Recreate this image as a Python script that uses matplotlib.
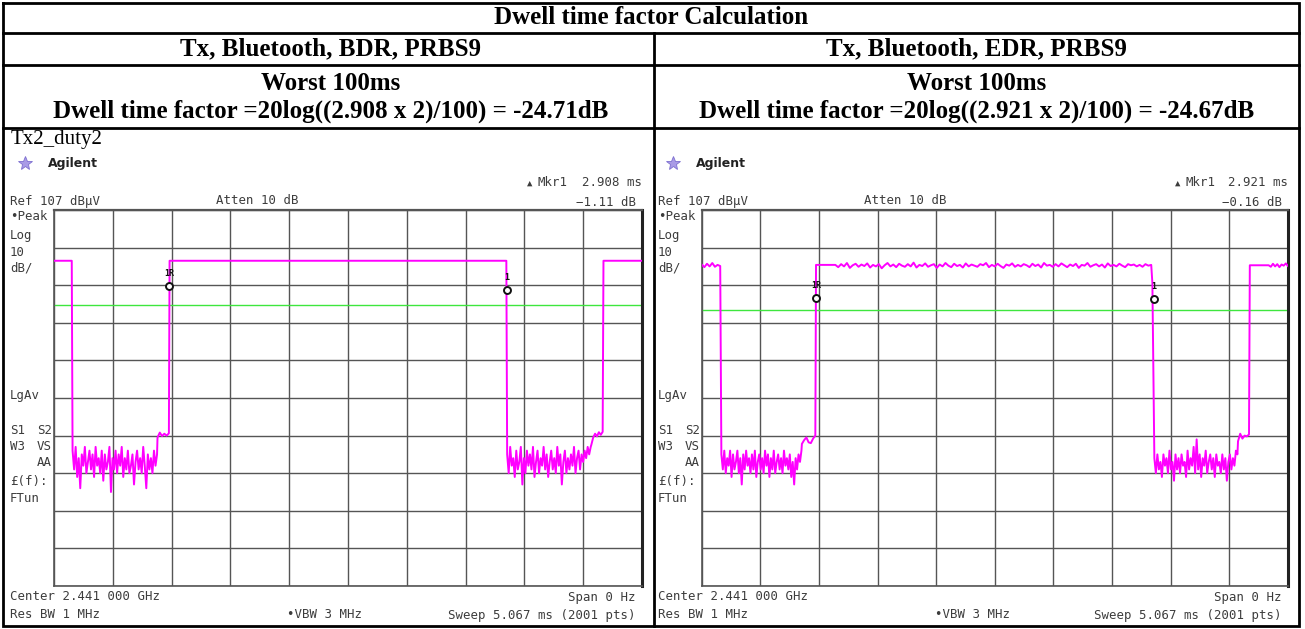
"""Dwell time factor sheet: BDR / EDR zero-span transmit bursts side by side."""
import matplotlib
matplotlib.use("Agg")
import matplotlib.pyplot as plt
import numpy as np

W, H = 1305, 629
SWEEP_MS = 5.067
REF_DB = 107
DB_PER_DIV = 10

TITLE = "Dwell time factor Calculation"
COL_HEADERS = ["Tx, Bluetooth, BDR, PRBS9", "Tx, Bluetooth, EDR, PRBS9"]
PULSE_MS = [2.908, 2.921]
WINDOW_MS = 100
FACTORS_DB = [-24.71, -24.67]
MKR_DELTA_DB = [-1.11, -0.16]

# marker 1R position (ms, dBuV) and display-line level per panel
MKR_REF = [(0.995, 86.8), (0.986, 83.5)]
DISPLAY_LINE_DB = [81.7, 80.4]

# ---- BDR trace (left) ----
bdr_high_db = 93.5
bdr_low1 = [43, 38, 44, 36, 41, 33, 42, 39, 44, 37, 40, 43, 38, 42, 36, 44,
            39, 41, 37, 43, 35, 42, 38, 40, 44, 32, 41, 38, 43, 37, 42, 39,
            44, 36, 41, 38, 43, 37, 39, 42, 34, 40, 43, 38, 41, 37, 44, 39,
            33, 42, 38, 41, 37, 43, 39, 42]
bdr_step1 = [46.5, 47.8, 46.9, 47.5, 47.0, 47.6]
bdr_low2 = [42, 37, 44, 39, 41, 36, 43, 38, 40, 44, 34, 41, 37, 43, 39, 42,
            38, 44, 36, 40, 43, 37, 41, 39, 44, 38, 42, 36, 40, 43, 38, 41,
            37, 44, 39, 42, 34, 40, 43, 37, 41, 38, 42, 39, 44, 37, 41, 43,
            38, 42, 40, 43, 41, 44, 42, 44]
bdr_step2 = [44.5, 46.5, 47.5, 46.8, 47.9, 47.2, 48.0]

# ---- EDR trace (right) ----
edr_start = [92.5, 91.8, 92.7, 92.0, 92.9, 91.9, 92.4, 92.1]
edr_low1 = [42, 38, 43, 37, 41, 39, 43, 36, 42, 38, 40, 43, 37, 41, 34, 42,
            38, 43, 39, 41, 37, 42, 38, 43, 36, 40, 42, 38, 41, 37, 43, 39,
            42, 36, 41, 38, 43, 37, 40, 42, 38, 41, 37, 43, 39, 41, 38, 42,
            36, 40, 34, 41, 38, 42, 40, 43]
edr_step1 = [44.8, 45.8, 46.5, 45.2, 45.0, 46.2, 47.0]
edr_flat_db = 92.4
edr_burst = [92.4, 91.8, 92.6, 92.0, 92.9, 91.6, 92.3, 92.7, 91.9, 92.5,
             92.1, 92.8, 91.7, 92.4, 92.0, 92.6, 91.5, 92.3, 92.9, 92.0,
             92.5, 91.8, 92.7, 92.2, 91.9, 92.6, 92.0, 93.0, 91.7, 92.4,
             92.1, 92.8, 91.9, 92.3, 92.6, 91.6, 92.5, 92.0, 92.9, 92.2,
             91.8, 92.7, 92.1, 92.4, 91.7, 92.8, 92.0, 92.5, 92.2, 91.9,
             92.6, 92.3, 92.9, 91.8, 92.4, 92.0, 92.7, 92.1, 91.6, 92.5,
             92.2, 92.8, 91.9, 92.4, 92.0, 92.6, 92.3, 91.8, 92.7, 92.1,
             92.5, 91.7, 92.9, 92.2, 92.4, 91.9, 92.6, 92.0, 92.8, 92.3,
             91.8, 92.5, 92.1, 92.7, 91.6, 92.4, 92.2, 92.9, 91.9, 92.3,
             92.6, 92.0, 92.5, 91.7, 92.8, 92.1, 92.4, 92.0, 92.7, 92.2,
             91.8, 92.6, 92.3, 92.5, 92.0, 92.4, 91.9, 92.6, 92.2, 92.4]
edr_low2 = [41, 37, 42, 38, 40, 36, 42, 39, 41, 37, 43, 38, 40, 35, 42, 38,
            41, 37, 42, 39, 40, 36, 43, 38, 41, 39, 44, 37, 46, 38, 42, 36,
            41, 39, 43, 37, 40, 42, 38, 41, 36, 42, 39, 40, 37, 42, 38, 41,
            35, 40, 42, 38, 41, 39, 43, 42]
edr_step2 = [45.5, 47.5, 46.2, 47.0, 46.8, 47.3]
edr_end = [92.3, 91.9, 92.7, 92.0, 92.6, 91.8, 92.5, 92.2, 92.8, 92.1]


def seg(t0, t1, vals):
    vals = np.asarray(vals, dtype=float)
    return np.linspace(t0, t1, len(vals)), vals


def build(parts):
    t = np.concatenate([p[0] for p in parts])
    v = np.concatenate([p[1] for p in parts])
    return t, v


bdr_t, bdr_v = build([
    seg(0.0, 0.153, [bdr_high_db, bdr_high_db]),
    seg(0.160, 0.888, bdr_low1),
    seg(0.892, 0.990, bdr_step1),
    seg(0.996, 3.898, [bdr_high_db, bdr_high_db]),
    seg(3.905, 4.625, bdr_low2),
    seg(4.630, 4.728, bdr_step2),
    seg(4.735, SWEEP_MS, [bdr_high_db, bdr_high_db]),
])

edr_t, edr_v = build([
    seg(0.0, 0.160, edr_start),
    seg(0.170, 0.862, edr_low1),
    seg(0.866, 0.982, edr_step1),
    seg(0.988, 1.150, [edr_flat_db, edr_flat_db]),
    seg(1.155, 3.885, edr_burst),
    seg(3.895, 3.895, [87.5]),
    seg(3.912, 4.630, edr_low2),
    seg(4.635, 4.730, edr_step2),
    seg(4.737, 4.890, [92.3, 92.3]),
    seg(4.900, SWEEP_MS, edr_end),
])

TRACES = [(bdr_t, bdr_v), (edr_t, edr_v)]

SERIF = "Liberation Serif"
MONO = "DejaVu Sans Mono"
SCOPE_INK = "#3c3c3c"

fig = plt.figure(figsize=(W / 100, H / 100), dpi=100)
fig.patch.set_facecolor("white")

# pixel-space overlay for the table frame and all annotations
bg = fig.add_axes([0, 0, 1, 1])
bg.set_xlim(0, W)
bg.set_ylim(H, 0)
bg.axis("off")

LX0, LX1, TY0, TY1 = 3, 1299, 3, 626
MID = 654
lw_tab = 2.0
bg.plot([LX0, LX1, LX1, LX0, LX0], [TY0, TY0, TY1, TY1, TY0],
        color="black", lw=lw_tab, solid_joinstyle="miter")
for y in (33, 65, 128):
    bg.plot([LX0, LX1], [y, y], color="black", lw=lw_tab)
bg.plot([MID, MID], [33, TY1], color="black", lw=lw_tab)

bold = dict(family=SERIF, weight="bold", fontsize=18, ha="center",
            va="center", color="black")
bg.text((LX0 + LX1) / 2, 18, TITLE, **bold)
col_centres = [(LX0 + MID) / 2 + 2, (MID + LX1) / 2]
for cx, hdr, pulse, fac in zip(col_centres, COL_HEADERS, PULSE_MS, FACTORS_DB):
    bg.text(cx, 49, hdr, **bold)
    bg.text(cx, 84, f"Worst {WINDOW_MS}ms", **bold)
    bg.text(cx, 111,
            f"Dwell time factor =20log(({pulse:.3f} x 2)/{WINDOW_MS}) = {fac:.2f}dB",
            **bold)

bg.text(11, 144, "Tx2_duty2", family=SERIF, fontsize=15, ha="left",
        va="baseline", color="black")

GRID_Y0, GRID_Y1 = 210, 586
grids = [(54, 642), (701.7, 1288)]
offsets = [(0, 0), (648, 646)]   # (left-aligned, right-aligned) shift per panel

mono = dict(family=MONO, fontsize=8.9, color=SCOPE_INK, va="center")
for i, ((gx0, gx1), (dl, dr)) in enumerate(zip(grids, offsets)):
    # instrument header
    bg.plot(25 + dl, 163, marker="*", ms=10, color="#a99be6", mec="#7d6fd0",
            mew=0.6)
    bg.text(48 + dl, 163, "Agilent", family="DejaVu Sans", weight="bold",
            fontsize=9, color="#222222", va="center")
    bg.text(10 + dl, 201, "Ref 107 dB\u03bcV", ha="left", **mono)
    bg.text(216 + dl, 201, "Atten 10 dB", ha="left", **mono)
    bg.text(527 + dl, 183, "\u25b2", ha="left", fontsize=6.5, family=MONO,
            color=SCOPE_INK, va="center")
    bg.text(537 + dl, 183, "Mkr1", ha="left", **mono)
    bg.text(642 + dr, 183, f"{PULSE_MS[i]:.3f} ms", ha="right", **mono)
    bg.text(636 + dr, 202, f"\u2212{abs(MKR_DELTA_DB[i]):.2f} dB", ha="right",
            **mono)
    # left-hand softkey column
    for y, s in [(217, "\u2022Peak"), (235, "Log"), (252, "10"), (268, "dB/"),
                 (395, "LgAv"), (430, "S1"), (446, "W3"),
                 (482, "\u00a3(f):"), (498, "FTun")]:
        bg.text(10 + dl, y, s, ha="left", **mono)
    bg.text(37 + dl, 430, "S2", ha="left", **mono)
    bg.text(37 + dl, 446, "VS", ha="left", **mono)
    bg.text(gx0 - 2, 463, "AA", ha="right", **mono)
    # footer
    bg.text(10 + dl, 597, "Center 2.441 000 GHz", ha="left", **mono)
    bg.text(10 + dl, 615, "Res BW 1 MHz", ha="left", **mono)
    bg.text(287 + dl, 615, "\u2022VBW 3 MHz", ha="left", **mono)
    bg.text(636 + dr, 597, "Span 0 Hz", ha="right", **mono)
    bg.text(636 + dr, 615, f"Sweep {SWEEP_MS:.3f} ms (2001 pts)", ha="right",
            **mono)

    # zero-span display
    ax = fig.add_axes([gx0 / W, 1 - GRID_Y1 / H, (gx1 - gx0) / W,
                       (GRID_Y1 - GRID_Y0) / H])
    ax.set_xlim(0, SWEEP_MS)
    ax.set_ylim(REF_DB - 10 * DB_PER_DIV, REF_DB)
    ax.set_xticks(np.linspace(0, SWEEP_MS, 11))
    ax.set_yticks(np.arange(REF_DB - 10 * DB_PER_DIV, REF_DB + 1, DB_PER_DIV))
    ax.tick_params(length=0, labelbottom=False, labelleft=False)
    ax.grid(True, color="#555555", lw=1.0)
    ax.set_axisbelow(True)
    for side, sp in ax.spines.items():
        sp.set_color("#555555")
        sp.set_linewidth(1.2)
    ax.spines["right"].set_color("#222222")
    ax.spines["right"].set_linewidth(2.2)
    ax.spines["top"].set_linewidth(1.6)

    ax.axhline(DISPLAY_LINE_DB[i], color="#3ee63e", lw=1.0, zorder=2)
    t, v = TRACES[i]
    ax.plot(t, v, color="#ff00ff", lw=1.4, zorder=3)

    mt, mv = MKR_REF[i]
    marks = [(mt, mv, "1R"), (mt + PULSE_MS[i], mv + MKR_DELTA_DB[i], "1")]
    for x, y, lab in marks:
        ax.plot(x, y, marker="o", ms=5, mfc="white", mec="#111111", mew=1.4,
                zorder=5)
        ax.annotate(lab, (x, y), xytext=(0, 9), textcoords="offset points",
                    ha="center", va="center", fontsize=6, family=MONO,
                    weight="bold", color="#111111", annotation_clip=False)

fig.savefig("out.png", dpi=100)
